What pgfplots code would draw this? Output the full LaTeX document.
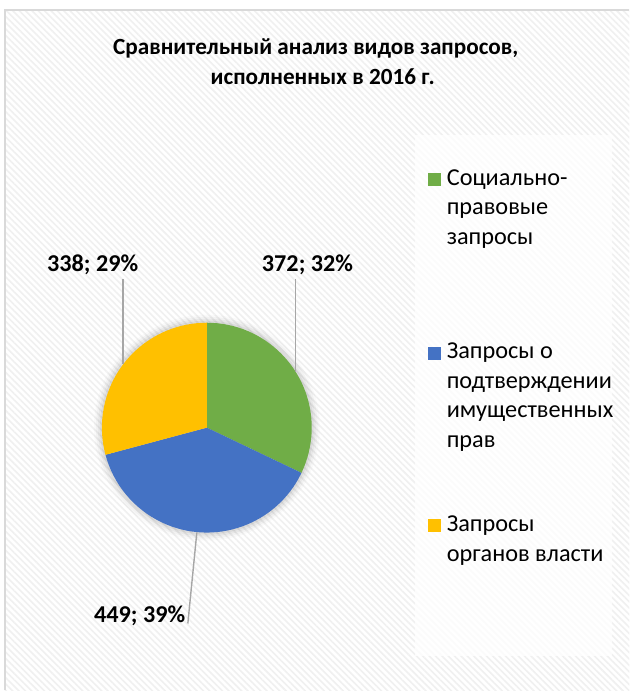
\documentclass[border=0pt]{standalone}
\usepackage{pgfplots}
\pgfplotsset{compat=1.18}
\usepackage{pgfplotstable}
\usetikzlibrary{patterns.meta}
\usepackage{fontspec}
\setmainfont{Carlito}
\definecolor{cGreen}{RGB}{112,173,71}
\definecolor{cBlue}{RGB}{68,114,196}
\definecolor{cYellow}{RGB}{255,192,0}
\definecolor{cLead}{RGB}{166,166,166}
\definecolor{cBorder}{RGB}{217,217,217}

\pgfplotstableread{
value pct
372 32
449 39
338 29
}\piedata

\begin{document}
\begin{tikzpicture}
\pgfplotstablegetelem{0}{value}\of\piedata \xdef\va{\pgfplotsretval}
\pgfplotstablegetelem{1}{value}\of\piedata \xdef\vb{\pgfplotsretval}
\pgfplotstablegetelem{2}{value}\of\piedata \xdef\vc{\pgfplotsretval}
\pgfplotstablegetelem{0}{pct}\of\piedata \xdef\pa{\pgfplotsretval}
\pgfplotstablegetelem{1}{pct}\of\piedata \xdef\pb{\pgfplotsretval}
\pgfplotstablegetelem{2}{pct}\of\piedata \xdef\pc{\pgfplotsretval}
\pgfmathsetmacro\total{\va+\vb+\vc}
\pgfmathsetmacro\angA{90}
\pgfmathsetmacro\angB{90-360*(\va/\total)}
\pgfmathsetmacro\angC{\angB-360*(\vb/\total)}
\pgfmathsetmacro\angD{\angC-360*(\vc/\total)}
\xdef\angA{\angA}\xdef\angB{\angB}\xdef\angC{\angC}\xdef\angD{\angD}
\begin{axis}[
  scale only axis, width=630pt, height=691pt,
  xmin=0, xmax=630, ymin=0, ymax=691, y dir=reverse,
  hide axis, clip=false,
]
% background
\fill[white] (axis cs:0,0) rectangle (axis cs:630,691);
\fill[pattern={Lines[angle=-45,distance=4.5pt,line width=1.6pt]}, pattern color=black!6]
  (axis cs:5,10) rectangle (axis cs:630,691);
\draw[cBorder, line width=1.2pt] (axis cs:5,691) -- (axis cs:5,10) -- (axis cs:630,10);
% legend box
\fill[white, opacity=0.75] (axis cs:415,135) rectangle (axis cs:613,657);
% title
\node[anchor=base, inner sep=0pt, font=\bfseries\fontsize{23.2}{30}\selectfont] at (axis cs:316,55)
  {Сравнительный анализ видов запросов,};
\node[anchor=base, inner sep=0pt, font=\bfseries\fontsize{23.2}{30}\selectfont] at (axis cs:323,85)
  {исполненных в 2016 г.};
% soft shadow
\fill[black, opacity=0.02] (axis cs:207,428) circle[radius=113pt];
\fill[black, opacity=0.03] (axis cs:207,428) circle[radius=111pt];
\fill[black, opacity=0.04] (axis cs:207,428) circle[radius=109pt];
\fill[black, opacity=0.05] (axis cs:207,428) circle[radius=107pt];
% pie slices
\fill[cGreen] (axis cs:207,428) -- ++(\angA:105pt) arc[start angle=\angA, end angle=\angB, radius=105pt] -- cycle;
\fill[cBlue] (axis cs:207,428) -- ++(\angB:105pt) arc[start angle=\angB, end angle=\angC, radius=105pt] -- cycle;
\fill[cYellow] (axis cs:207,428) -- ++(\angC:105pt) arc[start angle=\angC, end angle=\angD, radius=105pt] -- cycle;
% leader lines
\draw[cLead, line width=1.4pt] (axis cs:296,279) -- (axis cs:296,372);
\draw[cLead, line width=1.4pt] (axis cs:123,279) -- (axis cs:123,364);
\draw[cLead, line width=1.4pt] (axis cs:197,533) -- (axis cs:188,624);
% data labels
\node[anchor=base west, inner sep=0pt, font=\bfseries\fontsize{24.2}{28}\selectfont] at (axis cs:262,272) {\va; \pa\%};
\node[anchor=base west, inner sep=0pt, font=\bfseries\fontsize{24.2}{28}\selectfont] at (axis cs:47,272) {\vc; \pc\%};
\node[anchor=base west, inner sep=0pt, font=\bfseries\fontsize{24.2}{28}\selectfont] at (axis cs:94,623) {\vb; \pb\%};
% legend
\fill[cGreen] (axis cs:428,173) rectangle (axis cs:441,186);
\fill[cBlue] (axis cs:428,347) rectangle (axis cs:441,360);
\fill[cYellow] (axis cs:428,519) rectangle (axis cs:441,532);
\node[anchor=base west, inner sep=0pt, font=\fontsize{24.3}{29.6}\selectfont] at (axis cs:447,185.5) {Социально-};
\node[anchor=base west, inner sep=0pt, font=\fontsize{24.3}{29.6}\selectfont] at (axis cs:447,215) {правовые};
\node[anchor=base west, inner sep=0pt, font=\fontsize{24.3}{29.6}\selectfont] at (axis cs:447,244.5) {запросы};
\node[anchor=base west, inner sep=0pt, font=\fontsize{24.3}{29.6}\selectfont] at (axis cs:447,359) {Запросы о};
\node[anchor=base west, inner sep=0pt, font=\fontsize{24.3}{29.6}\selectfont] at (axis cs:447,388.5) {подтверждении};
\node[anchor=base west, inner sep=0pt, font=\fontsize{24.3}{29.6}\selectfont] at (axis cs:447,418) {имущественных};
\node[anchor=base west, inner sep=0pt, font=\fontsize{24.3}{29.6}\selectfont] at (axis cs:447,447.5) {прав};
\node[anchor=base west, inner sep=0pt, font=\fontsize{24.3}{29.6}\selectfont] at (axis cs:447,531.5) {Запросы};
\node[anchor=base west, inner sep=0pt, font=\fontsize{24.3}{29.6}\selectfont] at (axis cs:447,561.5) {органов власти};
\end{axis}
\end{tikzpicture}
\end{document}
